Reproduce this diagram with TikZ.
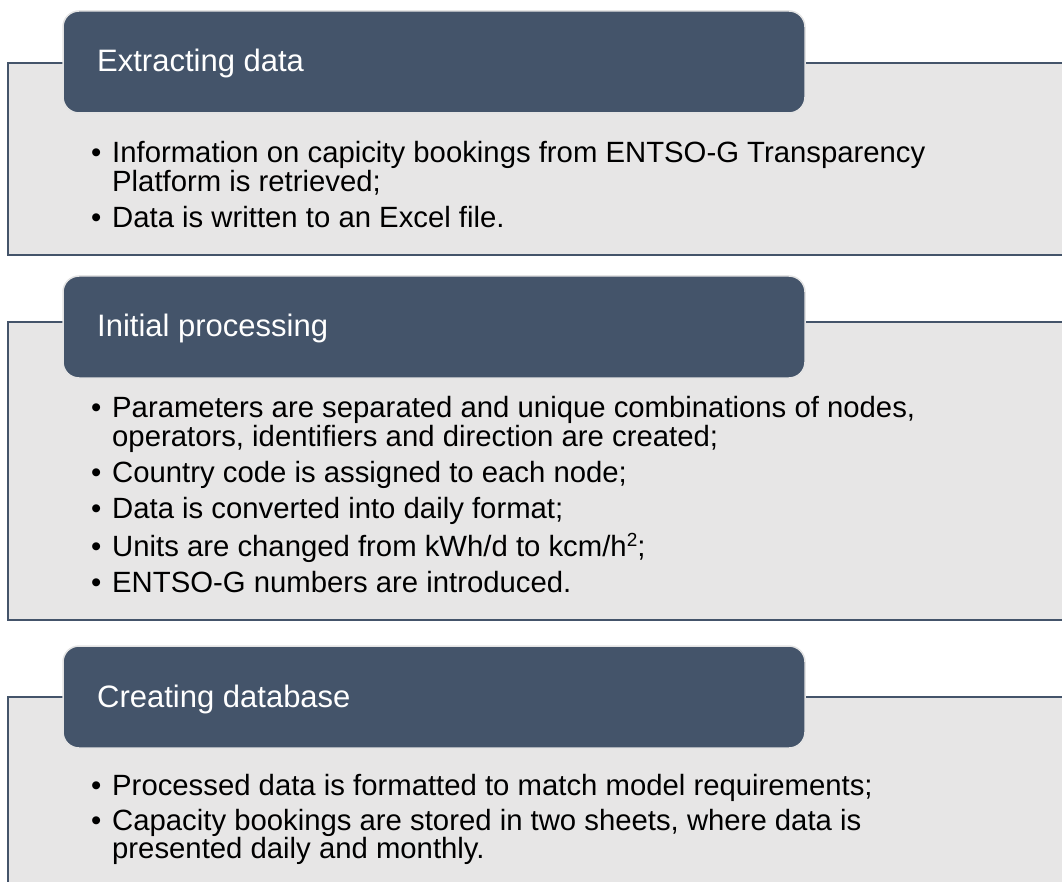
\documentclass[tikz,border=0pt]{standalone}
\usepackage{fontspec}
\setmainfont{Liberation Sans}
\definecolor{hdr}{HTML}{44546A}
\definecolor{panel}{HTML}{E7E6E6}
\definecolor{hdredge}{HTML}{E4E4E4}
\begin{document}
\begin{tikzpicture}[x=1pt,y=-1pt,
  panelbox/.style={draw=hdr, line width=2.4pt, fill=panel},
  hdrbox/.style={fill=hdr, draw=hdredge, line width=1.5pt, rounded corners=16pt},
  hdrtext/.style={anchor=base west, text=white, font=\fontsize{31}{37}\selectfont, inner sep=0pt},
  bodytext/.style={anchor=base west, text=black, font=\fontsize{29.3}{29}\selectfont, inner sep=0pt},
  bulletdot/.style={anchor=base west, text=black, font=\fontsize{29.3}{29}\selectfont, inner sep=0pt}]
\useasboundingbox (0,0) rectangle (1062,882);
\clip (0,0) rectangle (1062,882);
% panels
\path[panelbox] (8,63) rectangle (1080,255);
\path[panelbox] (8,322) rectangle (1080,620);
\path[panelbox] (8,697) rectangle (1080,900);
% headers
\path[hdrbox] (63,11) rectangle (805,113);
\path[hdrbox] (63,276) rectangle (805,378);
\path[hdrbox] (63,646) rectangle (805,748);
\node[hdrtext] (h1) at (97,72) {Extracting data};
\node[hdrtext] (h2) at (97,337) {Initial processing};
\node[hdrtext] (h3) at (97,707) {Creating database};
% box 1
\node[bulletdot] (b11) at (91,163) {•};
\node[bodytext] (t11) at (112,163) {Information on capicity bookings from ENTSO-G Transparency};
\node[bodytext] (t11b) at (112,192) {Platform is retrieved;};
\node[bulletdot] (b12) at (91,228) {•};
\node[bodytext] (t12) at (112,228) {Data is written to an Excel file.};
% box 2
\node[bulletdot] (b21) at (91,417) {•};
\node[bodytext] (t21) at (112,417) {Parameters are separated and unique combinations of nodes,};
\node[bodytext] (t21b) at (112,446) {operators, identifiers and direction are created;};
\node[bulletdot] (b22) at (91,482) {•};
\node[bodytext] (t22) at (112,482) {Country code is assigned to each node;};
\node[bulletdot] (b23) at (91,518) {•};
\node[bodytext] (t23) at (112,518) {Data is converted into daily format;};
\node[bulletdot] (b24) at (91,556) {•};
\node[bodytext] (t24) at (112,556) {Units are changed from kWh/d to kcm/h\raisebox{0.32em}{\fontsize{19}{19}\selectfont 2};};
\node[bulletdot] (b25) at (91,592) {•};
\node[bodytext] (t25) at (112,592) {ENTSO-G numbers are introduced.};
% box 3
\node[bulletdot] (b31) at (91,795) {•};
\node[bodytext] (t31) at (112,795) {Processed data is formatted to match model requirements;};
\node[bulletdot] (b32) at (91,830) {•};
\node[bodytext] (t32) at (112,830) {Capacity bookings are stored in two sheets, where data is};
\node[bodytext] (t32b) at (112,858) {presented daily and monthly.};
\end{tikzpicture}
\end{document}
